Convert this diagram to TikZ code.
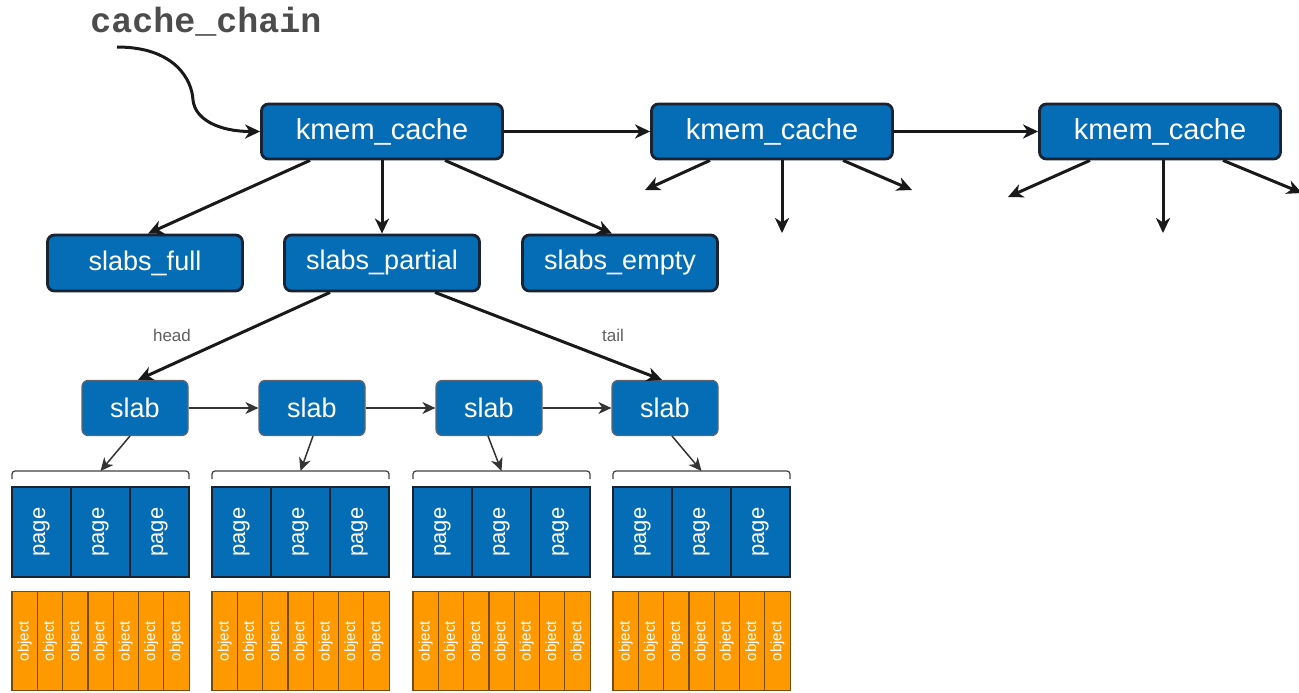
\documentclass[tikz,border=0pt]{standalone}
\usepackage{fontspec}
\setmainfont{Liberation Sans}
\newfontfamily\codefont{Liberation Mono}
\usetikzlibrary{arrows.meta}
\definecolor{boxblue}{RGB}{5,108,182}
\definecolor{boxedge}{RGB}{25,35,50}
\definecolor{objorange}{RGB}{255,153,0}
\definecolor{objedge}{RGB}{120,75,10}
\definecolor{labelgray}{RGB}{95,95,95}
\begin{document}
\begin{tikzpicture}[x=1pt,y=-1pt,
  bluebox/.style={draw=boxedge, line width=2.8pt, fill=boxblue, rounded corners=7pt,
    text=white, font=\fontsize{27}{29}\selectfont, inner sep=0pt},
  kmembox/.style={bluebox, minimum width=241pt, minimum height=55pt, font=\fontsize{29}{31}\selectfont},
  listbox/.style={bluebox, minimum width=195pt, minimum height=56pt},
  slabbox/.style={bluebox, line width=1.2pt, draw=boxedge!70, minimum width=106pt, minimum height=55pt, rounded corners=6pt},
  pagebox/.style={draw=boxedge, line width=1.3pt, fill=boxblue, text=white, minimum width=59pt,
    minimum height=90pt, inner sep=0pt, font=\fontsize{22}{23}\selectfont},
  objbox/.style={draw=objedge, line width=1.2pt, fill=objorange, text=white, minimum width=25.3pt,
    minimum height=99pt, inner sep=0pt, font=\fontsize{15}{16}\selectfont},
  mainarrow/.style={draw=black!90, line width=3pt, -{Stealth[length=15pt,width=14pt,inset=4.5pt]}},
  thinarrow/.style={draw=black!80, line width=1.5pt, -{Stealth[length=13pt,width=12pt,inset=4pt]}},
  bracketline/.style={draw=black!75, line width=1.2pt, rounded corners=3pt},
  lbl/.style={text=labelgray, font=\fontsize{17}{18}\selectfont, inner sep=0pt}
]
\useasboundingbox (0,0) rectangle (1299,693);

% title and curved arrow
\node[text=black!70, font=\codefont\bfseries\fontsize{35}{36}\selectfont, inner sep=0pt] (title) at (206,22) {cache\_chain};

% kmem caches
\node[kmembox] (k1) at (382,131.5) {kmem\_cache};
\node[kmembox] (k2) at (772,131.5) {kmem\_cache};
\node[kmembox] (k3) at (1160,131.5) {kmem\_cache};

\coordinate (cstart) at (117,47);
\draw[mainarrow] (cstart) .. controls (175,47) and (192,80) .. (193,100) .. controls (195,120) and (220,131.5) .. (k1.west);

\draw[mainarrow] (k1.east) -- (k2.west);
\draw[mainarrow] (k2.east) -- (k3.west);

% lists
\node[listbox] (sf) at (145,263) {slabs\_full};
\node[listbox] (sp) at (382,263) {slabs\_partial};
\node[listbox] (se) at (620,263) {slabs\_empty};

\draw[mainarrow] ([xshift=-72pt]k1.south) -- ([xshift=3pt]sf.north);
\draw[mainarrow] (k1.south) -- (sp.north);
\draw[mainarrow] ([xshift=63pt]k1.south) -- ([xshift=-8pt]se.north);

% stubs of other caches
\coordinate (k2l) at (645,190);
\coordinate (k2d) at (782,233);
\coordinate (k2r) at (912,190);
\coordinate (k3l) at (1008,197);
\coordinate (k3d) at (1163,233);
\coordinate (k3r) at (1302,193);
\draw[mainarrow] ([xshift=-62pt]k2.south) -- (k2l);
\draw[mainarrow] (k2.south -| k2d) -- (k2d);
\draw[mainarrow] ([xshift=71pt]k2.south) -- (k2r);
\draw[mainarrow] ([xshift=-70pt]k3.south) -- (k3l);
\draw[mainarrow] (k3.south -| k3d) -- (k3d);
\draw[mainarrow] ([xshift=63pt]k3.south) -- (k3r);

% slabs
\node[slabbox] (s1) at (135,408) {slab};
\node[slabbox] (s2) at (312,408) {slab};
\node[slabbox] (s3) at (489,408) {slab};
\node[slabbox] (s4) at (665,408) {slab};

\draw[mainarrow] ([xshift=-52pt]sp.south) -- ([xshift=3pt]s1.north);
\draw[mainarrow] ([xshift=53pt]sp.south) -- ([xshift=-3pt]s4.north);
\node[lbl] (hl) at (172,335) {head};
\node[lbl] (tl) at (613,335) {tail};

\draw[thinarrow] (s1.east) -- (s2.west);
\draw[thinarrow] (s2.east) -- (s3.west);
\draw[thinarrow] (s3.east) -- (s4.west);

% groups
\foreach \g/\x/\sx in {1/12/130, 2/212/313, 3/413/488, 4/613/672} {
  \coordinate (br\g) at (\x+88.5,471);
  \draw[bracketline] (\x,479) -- (\x,471) -- (\x+177,471) -- (\x+177,479);
  \draw[thinarrow] (\sx,436) -- (br\g);
  \foreach \p in {0,1,2} {
    \node[pagebox] (p\g-\p) at (\x+29.5+59*\p,532) {\rotatebox{90}{page}};
  }
  \foreach \o in {0,...,6} {
    \node[objbox] (o\g-\o) at (\x+12.65+25.3*\o,641) {\rotatebox{90}{object}};
  }
}
\end{tikzpicture}
\end{document}
